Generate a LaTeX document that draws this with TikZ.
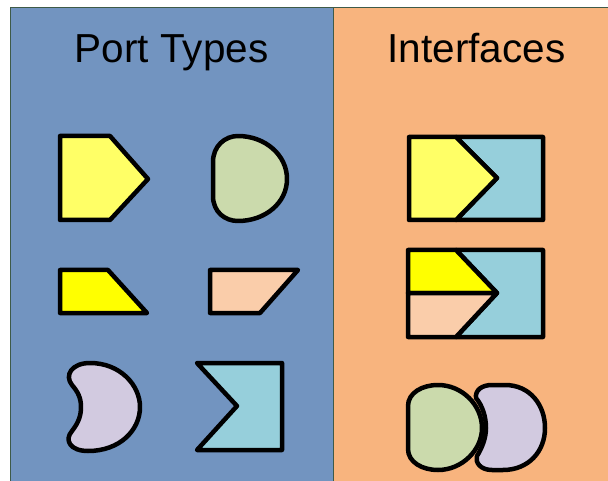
\documentclass[tikz,border=0pt]{standalone}
\usepackage{fontspec}
\setmainfont{Liberation Sans}
\definecolor{panelblue}{HTML}{7294C0}
\definecolor{panelorange}{HTML}{F8B47E}
\definecolor{paneledge}{HTML}{3E5A48}
\definecolor{lightyellow}{HTML}{FFFF66}
\definecolor{brightyellow}{HTML}{FFFF00}
\definecolor{sage}{HTML}{CBDAAC}
\definecolor{peach}{HTML}{FACDAA}
\definecolor{lavender}{HTML}{D2CAE0}
\definecolor{aqua}{HTML}{96CFDB}
\tikzset{
  portshape/.style={draw=black, line width=4.5pt, line join=round},
  paneltitle/.style={font=\fontsize{40.5}{41}\selectfont, anchor=base, inner sep=0pt}
}
\begin{document}
\begin{tikzpicture}[x=1pt,y=-1pt]
\useasboundingbox (0,0) rectangle (608,481);
\fill[white] (0,0) rectangle (608,481);
% panels
\fill[panelblue] (10,8) rectangle (333,481);
\fill[panelorange] (333,8) rectangle (608,481);
\draw[paneledge, line width=1pt] (10,481) -- (10,8) -- (608,8);
\draw[paneledge, line width=1pt] (333,8) -- (333,481);
\node[paneltitle] (pt) at (171.5,63) {Port Types};
\node[paneltitle] (if) at (476.5,63) {Interfaces};
% --- Port types ---
% yellow pentagon
\draw[portshape, fill=lightyellow] (60,136) -- (110,136) -- (148,179) -- (110,220) -- (60,220) -- cycle;
% green D
\draw[portshape, fill=sage] (213,162) -- (213,196)
  .. controls (213,212) and (225,221) .. (238,221)
  .. controls (265,221) and (287,203) .. (287,179)
  .. controls (287,155) and (265,136) .. (238,136)
  .. controls (225,136) and (213,146) .. (213,162) -- cycle;
% bright yellow trapezoid
\draw[portshape, fill=brightyellow] (60,270) -- (108,270) -- (147,313) -- (60,313) -- cycle;
% peach parallelogram
\draw[portshape, fill=peach] (210,270) -- (298,270) -- (260,313) -- (210,313) -- cycle;
% lavender kidney
\draw[portshape, fill=lavender] (90,363)
  .. controls (120,363) and (140,385) .. (140,407)
  .. controls (140,430) and (120,451) .. (88,451)
  .. controls (70,451) and (64,440) .. (72,431)
  .. controls (79,422) and (81,415) .. (81,407)
  .. controls (81,398) and (78,392) .. (72,385)
  .. controls (64,375) and (72,363) .. (90,363) -- cycle;
% aqua notch
\draw[portshape, fill=aqua] (197,363) -- (282,363) -- (282,450) -- (197,450) -- (237,406) -- cycle;
% --- Interfaces ---
% box 1
\draw[portshape, fill=aqua] (456,137) -- (543,137) -- (543,220) -- (456,220) -- (497,178) -- cycle;
\draw[portshape, fill=lightyellow] (409,137) -- (456,137) -- (497,178) -- (456,220) -- (409,220) -- cycle;
% box 2
\draw[portshape, fill=aqua] (456,250) -- (543,250) -- (543,337) -- (456,337) -- (497,293) -- cycle;
\draw[portshape, fill=brightyellow] (408,250) -- (456,250) -- (497,293) -- (408,293) -- cycle;
\draw[portshape, fill=peach] (408,293) -- (497,293) -- (456,337) -- (408,337) -- cycle;
% lavender + green
\draw[portshape, fill=lavender] (505,385)
  .. controls (530,385) and (545,405) .. (545,428)
  .. controls (545,452) and (528,470) .. (503,470) -- (492,470)
  .. controls (480,470) and (475,462) .. (477,456)
  .. controls (482,448) and (486,438) .. (486,428)
  .. controls (486,416) and (482,405) .. (476,398)
  .. controls (475,390) and (482,385) .. (492,385) -- cycle;
\draw[portshape, fill=sage] (408,406) -- (408,449)
  .. controls (408,462) and (422,470) .. (438,470)
  .. controls (462,470) and (482,450) .. (482,428)
  .. controls (482,405) and (462,385) .. (438,385)
  .. controls (422,385) and (408,393) .. (408,406) -- cycle;
\end{tikzpicture}
\end{document}
